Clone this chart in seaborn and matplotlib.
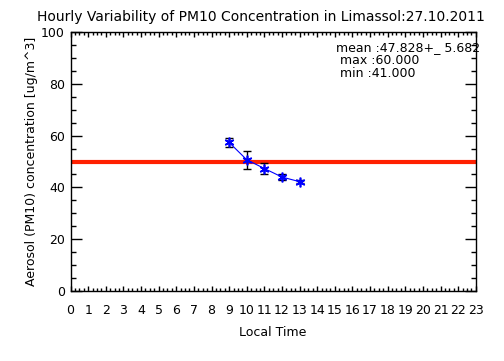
import matplotlib
matplotlib.use("Agg")

import matplotlib.pyplot as plt
import numpy as np
import pandas as pd
import seaborn as sns
from matplotlib.ticker import MultipleLocator

# hourly PM10 values
hours = [9, 10, 11, 12, 13]
pm10 = [57.4, 50.7, 47.3, 44.0, 42.2]
pm10_err = [1.9, 3.4, 2.1, 1.3, 0.6]
limit_value = 50

stats_lines = ["mean :47.828+_ 5.682", " max :60.000", " min :41.000"]
title = "Hourly Variability of PM10 Concentration in Limassol:27.10.2011"
xticks = list(range(0, 24))
yticks = [0, 20, 40, 60, 80, 100]

df = pd.DataFrame({"hour": hours, "pm10": pm10, "err": pm10_err})

sns.set_style("ticks")
plt.rcParams["font.family"] = ["DejaVu Sans"]
plt.rcParams["text.color"] = "black"
plt.rcParams["axes.labelcolor"] = "black"
plt.rcParams["xtick.direction"] = "in"
plt.rcParams["ytick.direction"] = "in"

fig = plt.figure(figsize=(5.04, 3.61), dpi=100)
ax = fig.add_axes([0.140, 0.195, 0.804, 0.715])

ax.axhline(limit_value, color="#ff2000", linewidth=3, zorder=1)
ax.errorbar(df["hour"], df["pm10"], yerr=df["err"], fmt="none",
            ecolor="black", elinewidth=1, capsize=3, capthick=1, zorder=2)
sns.lineplot(data=df, x="hour", y="pm10", ax=ax, color="blue", linewidth=0.8,
             marker=(6, 2, 0), markersize=7, markeredgecolor="blue",
             markeredgewidth=1.2, zorder=3)

ax.set_xlim(0, 23)
ax.set_ylim(0, 100)
ax.set_xticks(xticks)
ax.set_yticks(yticks)
ax.xaxis.set_minor_locator(MultipleLocator(0.25))
ax.yaxis.set_minor_locator(MultipleLocator(5))
ax.tick_params(which="both", direction="in", top=True, right=True,
               color="black", width=1, labelsize=9, labelcolor="black")
ax.tick_params(axis="y", which="major", direction="in", length=8, pad=4)
ax.tick_params(axis="y", which="minor", direction="in", length=3.5)
ax.tick_params(axis="x", which="major", direction="in", length=3.5, pad=10)
ax.tick_params(axis="x", which="minor", direction="in", length=2.5)
for side in ax.spines.values():
    side.set_color("black")
    side.set_linewidth(1)

ax.set_xlabel("Local Time", fontsize=9, labelpad=6)
ax.set_ylabel("Aerosol (PM10) concentration [ug/m^3]", fontsize=9, labelpad=2)

for i, line in enumerate(stats_lines):
    ax.text(0.655, 0.94 - i * 0.05, line, transform=ax.transAxes,
            fontsize=9, ha="left", va="center")

fig.text(37 / 504, 1 - 17 / 361, title, fontsize=10, ha="left", va="center")

fig.savefig("out.png", dpi=100)
plt.close(fig)
